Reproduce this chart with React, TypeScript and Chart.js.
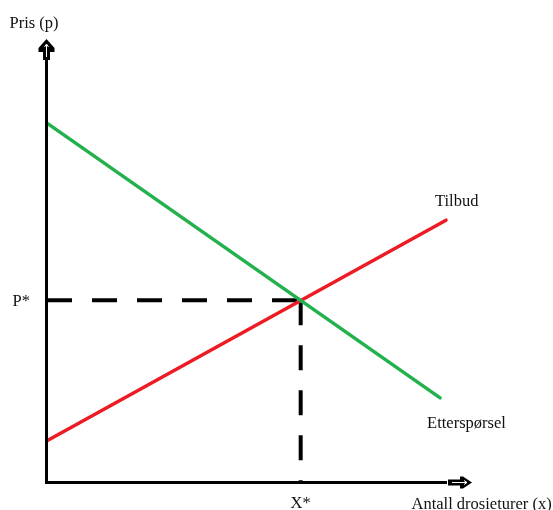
import React, { useEffect, useRef } from "react";
import { Chart, registerables } from "chart.js";

Chart.register(...registerables);

// Demand (Etterspørsel) and supply (Tilbud) lines, quantity x against price p
const demandX = [0, 9.36];
const demandP = [8.1, 1.9];
const supplyX = [0, 9.5];
const supplyP = [0.93, 5.91];

// Equilibrium point
const eqX = 6.04;
const eqP = 4.1;

// Text
const yAxisTitle = "Pris (p)";
const xAxisTitle = "Antall drosieturer (x)";
const priceMark = "P*";
const quantityMark = "X*";
const supplyName = "Tilbud";
const demandName = "Etterspørsel";

const FONT = '16.5px "Liberation Serif", "Times New Roman", serif';

function blockArrowUp(ctx: CanvasRenderingContext2D, cx: number, tip: number) {
  ctx.save();
  ctx.fillStyle = "#000";
  ctx.beginPath();
  ctx.moveTo(cx, tip);
  ctx.lineTo(cx + 8, tip + 9);
  ctx.lineTo(cx + 8, tip + 13);
  ctx.lineTo(cx + 3.5, tip + 13);
  ctx.lineTo(cx + 3.5, tip + 21);
  ctx.lineTo(cx - 3.5, tip + 21);
  ctx.lineTo(cx - 3.5, tip + 13);
  ctx.lineTo(cx - 8, tip + 13);
  ctx.lineTo(cx - 8, tip + 9);
  ctx.closePath();
  ctx.fill();
  ctx.strokeStyle = "#fff";
  ctx.lineWidth = 1;
  ctx.beginPath();
  ctx.moveTo(cx, tip + 18);
  ctx.lineTo(cx, tip + 6);
  ctx.moveTo(cx - 2, tip + 8);
  ctx.lineTo(cx, tip + 5);
  ctx.lineTo(cx + 2, tip + 8);
  ctx.stroke();
  ctx.restore();
}

function blockArrowRight(ctx: CanvasRenderingContext2D, cy: number, tip: number) {
  ctx.save();
  ctx.fillStyle = "#000";
  ctx.beginPath();
  ctx.moveTo(tip, cy);
  ctx.lineTo(tip - 9, cy + 6);
  ctx.lineTo(tip - 12, cy + 6);
  ctx.lineTo(tip - 12, cy + 3);
  ctx.lineTo(tip - 24, cy + 3);
  ctx.lineTo(tip - 24, cy - 3);
  ctx.lineTo(tip - 12, cy - 3);
  ctx.lineTo(tip - 12, cy - 6);
  ctx.lineTo(tip - 9, cy - 6);
  ctx.closePath();
  ctx.fill();
  ctx.strokeStyle = "#fff";
  ctx.lineWidth = 1;
  ctx.beginPath();
  ctx.moveTo(tip - 20, cy);
  ctx.lineTo(tip - 5, cy);
  ctx.moveTo(tip - 8, cy - 2);
  ctx.lineTo(tip - 5, cy);
  ctx.lineTo(tip - 8, cy + 2);
  ctx.stroke();
  ctx.restore();
}

const axesAndLabels = {
  id: "axesAndLabels",
  afterDatasetsDraw(chart: any) {
    const { ctx, chartArea, scales } = chart;
    const x = scales.x;
    const y = scales.y;
    const ox = x.getPixelForValue(0) - 0.5;
    const oy = y.getPixelForValue(0) + 0.5;

    ctx.save();
    ctx.strokeStyle = "#000";
    ctx.lineWidth = 3;
    ctx.lineCap = "butt";
    ctx.beginPath();
    ctx.moveTo(ox, chartArea.top + 18);
    ctx.lineTo(ox, oy + 1.5);
    ctx.moveTo(ox - 1.5, oy);
    ctx.lineTo(chartArea.right - 20, oy);
    ctx.stroke();
    ctx.restore();

    blockArrowUp(ctx, ox, chartArea.top);
    blockArrowRight(ctx, oy, chartArea.right + 5);

    const px = x.getPixelForValue(eqX);
    const py = y.getPixelForValue(eqP);
    const dEnd = demandX.length - 1;
    const sEnd = supplyX.length - 1;

    ctx.save();
    ctx.font = FONT;
    ctx.fillStyle = "#111";
    ctx.textBaseline = "alphabetic";
    ctx.textAlign = "left";
    ctx.fillText(yAxisTitle, ox - 37, chartArea.top - 11);
    ctx.fillText(priceMark, ox - 34, py + 6);
    ctx.fillText(
      supplyName,
      x.getPixelForValue(supplyX[sEnd]) - 11,
      y.getPixelForValue(supplyP[sEnd]) - 14
    );
    ctx.fillText(
      demandName,
      x.getPixelForValue(demandX[dEnd]) - 13,
      y.getPixelForValue(demandP[dEnd]) + 30
    );
    ctx.fillText(xAxisTitle, ox + 365, oy + 26);
    ctx.textAlign = "center";
    ctx.fillText(quantityMark, px, oy + 25);
    ctx.restore();
  },
};

export default function App() {
  const canvasRef = useRef<HTMLCanvasElement | null>(null);

  useEffect(() => {
    const canvas = canvasRef.current;
    if (!canvas) return;
    const toPoints = (xs: number[], ps: number[]) =>
      xs.map((v, i) => ({ x: v, y: ps[i] }));

    const chart = new Chart(canvas, {
      type: "line",
      data: {
        datasets: [
          {
            label: "Etterspørsel",
            data: toPoints(demandX, demandP),
            borderColor: "#22b14c",
            borderWidth: 3.5,
            borderCapStyle: "round",
            pointRadius: 0,
          },
          {
            label: "Tilbud",
            data: toPoints(supplyX, supplyP),
            borderColor: "#ed1c24",
            borderWidth: 3.5,
            borderCapStyle: "round",
            pointRadius: 0,
          },
          {
            label: "P*",
            data: [
              { x: 0, y: eqP },
              { x: eqX, y: eqP },
            ],
            borderColor: "#000",
            borderWidth: 4,
            borderDash: [25, 20],
            pointRadius: 0,
          },
          {
            label: "X*",
            data: [
              { x: eqX, y: eqP },
              { x: eqX, y: 0 },
            ],
            borderColor: "#000",
            borderWidth: 4,
            borderDash: [25, 20],
            pointRadius: 0,
          },
        ],
      },
      options: {
        responsive: false,
        animation: false,
        layout: { padding: { left: 47, right: 86, top: 39, bottom: 28 } },
        plugins: {
          legend: { display: false },
          title: { display: false },
          tooltip: { enabled: false },
        },
        elements: { line: { tension: 0 } },
        scales: {
          x: { type: "linear", min: 0, max: 10, display: false },
          y: { type: "linear", min: 0, max: 10, display: false },
        },
        clip: false,
      } as any,
      plugins: [axesAndLabels],
    });

    return () => chart.destroy();
  }, []);

  return (
    <div style={{ position: "absolute", left: 0, top: 0, width: 553, height: 510, background: "#fff" }}>
      <canvas ref={canvasRef} width={553} height={510} style={{ display: "block" }} />
    </div>
  );
}
